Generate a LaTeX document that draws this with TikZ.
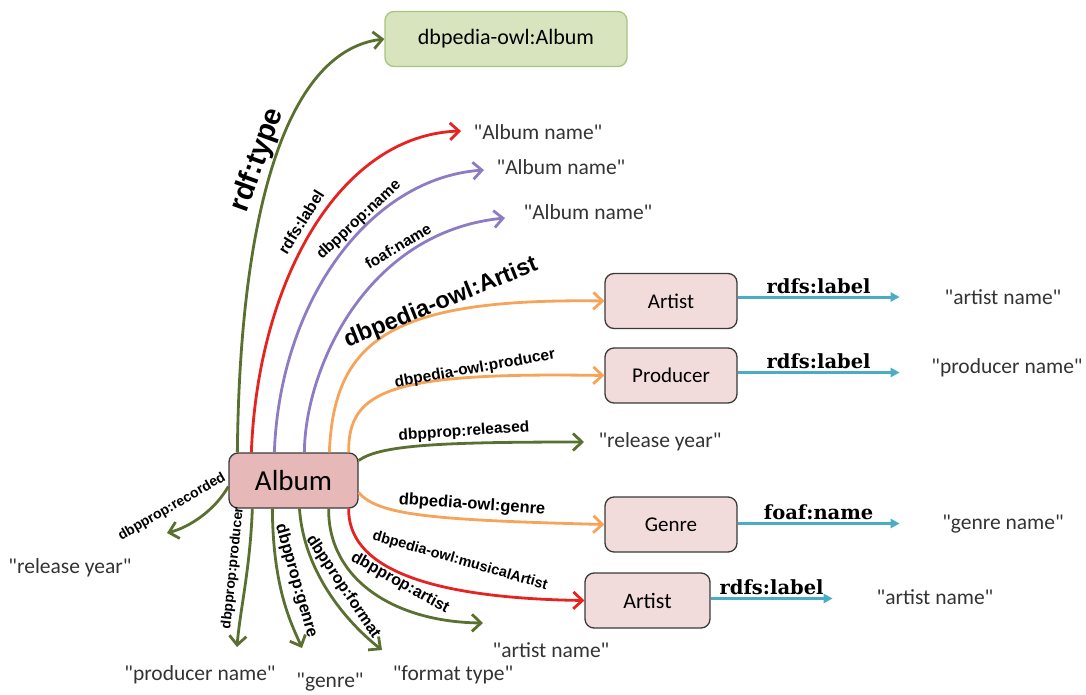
\documentclass[tikz,border=0pt]{standalone}
\usepackage{fontspec}
\setmainfont{Carlito}[Ligatures=TeXOff]
\newfontfamily\proplabelfont{Liberation Sans}
\newfontfamily\attrfont{DejaVu Serif}
\usetikzlibrary{arrows.meta,calc}

\definecolor{olive}{HTML}{5A7030}
\definecolor{redline}{HTML}{E52421}
\definecolor{purpleline}{HTML}{8E7CC3}
\definecolor{orangeline}{HTML}{F6A45A}
\definecolor{cyanline}{HTML}{4BACC6}
\definecolor{albumfill}{HTML}{E6B9B8}
\definecolor{entityfill}{HTML}{F2DCDB}
\definecolor{classfill}{HTML}{D7E4BD}
\definecolor{classline}{HTML}{A9C47F}
\definecolor{boxline}{HTML}{3A3A3A}

\tikzset{
  entity/.style={draw=boxline, line width=1.3pt, rounded corners=9pt, fill=entityfill,
    minimum width=130pt, minimum height=55pt, inner sep=0pt,
    font=\fontsize{21}{23}\selectfont},
  literal/.style={font=\fontsize{21.5}{24}\selectfont, text=black!80, inner sep=0pt},
  rel/.style={line width=2.8pt, -{Straight Barb[length=9pt,width=17pt,line width=2.8pt]}},
  attr/.style={line width=3pt, draw=cyanline, -{Triangle[length=9pt,width=9pt]}},
  prop/.style={font=\proplabelfont\bfseries\fontsize{#1}{#1}\selectfont, text=black, inner sep=0pt},
  prop/.default=15.5,
  attrlabel/.style={font=\attrfont\bfseries\fontsize{19.5}{21}\selectfont, above, inner sep=2pt}
}

\begin{document}
\begin{tikzpicture}[x=1pt,y=-1pt]
\useasboundingbox (0,0) rectangle (1086,695);

% resources
\node[entity, fill=classfill, draw=classline, minimum width=242pt, font=\fontsize{22}{24}\selectfont] (cls) at (506,39) {dbpedia-owl:Album};
\node[entity, fill=albumfill, minimum width=129pt, font=\fontsize{29}{31}\selectfont] (album) at (293.5,480.5) {Album};
\node[entity, minimum width=132pt] (artistA) at (671,301) {Artist};
\node[entity, minimum width=132pt] (producer) at (671,375.5) {Producer};
\node[entity, minimum width=132pt] (genreBox) at (671,524.5) {Genre};
\node[entity, minimum width=125pt, font=\fontsize{22}{24}\selectfont] (artistB) at (647.5,600.5) {Artist};

% literal values
\node[literal] (name1) at (538,132) {"Album name"};
\node[literal] (name2) at (561,167) {"Album name"};
\node[literal] (name3) at (588,212) {"Album name"};
\node[literal] (artistName1) at (1003,297) {"artist name"};
\node[literal] (producerName1) at (1007,368) {"producer name"};
\node[literal] (year1) at (660,442) {"release year"};
\node[literal] (genreName) at (1003,524) {"genre name"};
\node[literal] (artistName2) at (935,597) {"artist name"};
\node[literal] (artistName3) at (551,650) {"artist name"};
\node[literal] (formatType) at (453,675) {"format type"};
\node[literal] (genreLit) at (330,682) {"genre"};
\node[literal] (producerName2) at (200,675) {"producer name"};
\node[literal] (year2) at (70,568) {"release year"};

% arrow tips next to the literal values
\coordinate (tName1) at (461,131);
\coordinate (tName2) at (484,170);
\coordinate (tName3) at (505,218);
\coordinate (tYear1) at (584,442);
\coordinate (tArtist3) at (483,623);
\coordinate (tFormat) at (382,650);
\coordinate (tGenre) at (302,648);
\coordinate (tProducer) at (237,647);
\coordinate (tYear2) at (167,533);

% edges leaving the top of the album
\draw[rel, olive] ($(album.north west)+(9,0)$) .. controls (240,200) and (290,50) .. (cls.west)
  node[prop=29, at={(258,160)}, rotate=70] {rdf:type};
\draw[rel, redline] ($(album.north west)+(23,0)$) .. controls (258,280) and (340,135) .. (tName1)
  node[prop=16, at={(301,222)}, rotate=58] {rdfs:label};
\draw[rel, purpleline] ($(album.north west)+(46,0)$) .. controls (280,300) and (370,178) .. (tName2)
  node[prop=15.5, at={(359,220)}, rotate=43] {dbpprop:name};
\draw[rel, purpleline] ($(album.north west)+(76,0)$) .. controls (305,370) and (365,232) .. (tName3)
  node[prop=15.5, at={(398,246)}, rotate=31] {foaf:name};
\draw[rel, orangeline] ($(album.north west)+(101,0)$) .. controls (334,340) and (390,298) .. (artistA.west)
  node[prop=23.5, at={(441,303)}, rotate=22] {dbpedia-owl:Artist};
\draw[rel, orangeline] ($(album.north east)+(-10,0)$) .. controls (348,390) and (390,372) .. (producer.west)
  node[prop=15.5, at={(475,369)}, rotate=10] {dbpedia-owl:producer};

% edges leaving the right side
\draw[rel, olive] ($(album.east)+(0,-20)$) .. controls (380,445) and (440,442) .. (tYear1)
  node[prop=15.5, at={(464,432)}, rotate=4] {dbpprop:released};
\draw[rel, orangeline] ($(album.east)+(0,12)$) .. controls (378,515) and (430,520) .. (genreBox.west)
  node[prop=16.5, at={(472,505)}, rotate=-4] {dbpedia-owl:genre};

% edges leaving the bottom
\draw[rel, redline] ($(album.south east)+(-10,0)$) .. controls (348,565) and (420,598) .. (artistB.west)
  node[prop=14.5, at={(460,561)}, rotate=-16] {dbpedia-owl:musicalArtist};
\draw[rel, olive] ($(album.south east)+(-30,0)$) .. controls (328,580) and (395,622) .. (tArtist3)
  node[prop=16, at={(400,583)}, rotate=-29] {dbpprop:artist};
\draw[rel, olive] ($(album.south)+(6,0)$) .. controls (304,575) and (350,625) .. (tFormat)
  node[prop=16, at={(343,587)}, rotate=-56] {dbpprop:format};
\draw[rel, olive] ($(album.south west)+(44,0)$) .. controls (273,590) and (292,625) .. (tGenre)
  node[prop=16.5, at={(296,581)}, rotate=-74] {dbpprop:genre};
\draw[rel, olive] ($(album.south west)+(24,0)$) .. controls (250,570) and (240,610) .. (tProducer)
  node[prop=14, at={(233,568)}, rotate=84] {dbpprop:producer};
\draw[rel, olive] ($(album.west)+(0,6)$) .. controls (215,510) and (190,527) .. (tYear2)
  node[prop=14, at={(172,507)}, rotate=30] {dbpprop:recorded};

% attribute edges of the linked resources
\draw[attr] (artistA.east) ++(0,-4) -- ++(162,0) node[attrlabel, midway] {rdfs:label};
\draw[attr] (producer.east) ++(0,-3) -- ++(162,0) node[attrlabel, midway] {rdfs:label};
\draw[attr] (genreBox.east) ++(0,-1) -- ++(162,0) node[attrlabel, midway] {foaf:name};
\draw[attr] (artistB.east) ++(0,-2) -- ++(122,0) node[attrlabel, midway] {rdfs:label};
\end{tikzpicture}
\end{document}
